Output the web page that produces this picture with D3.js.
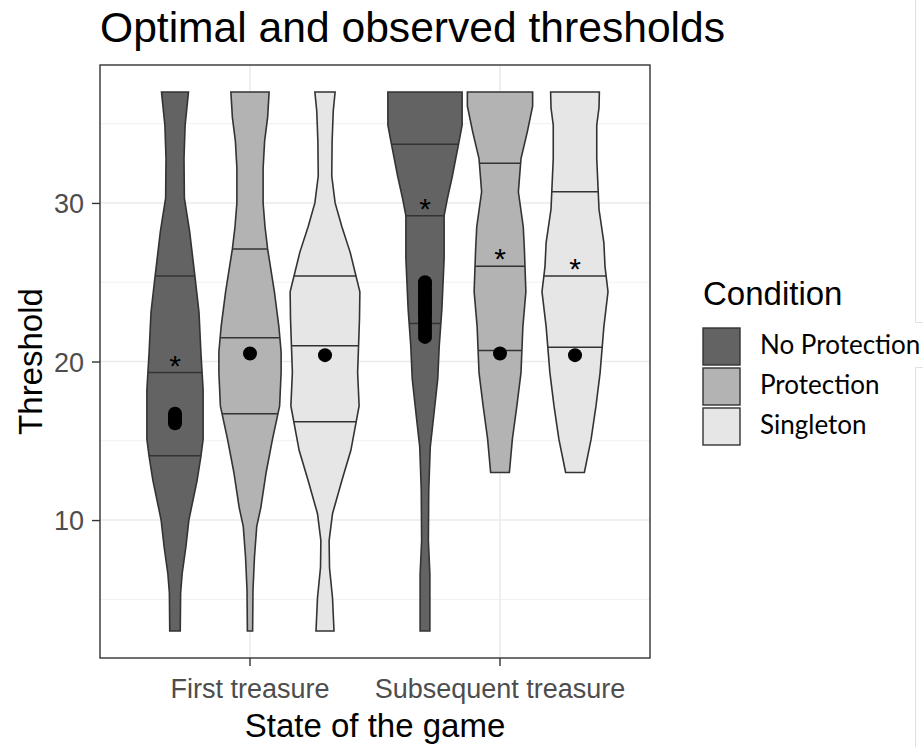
<!DOCTYPE html>
<html>
<head>
<meta charset="utf-8">
<script src="https://cdn.jsdelivr.net/npm/d3@7"></script>
<style>
  body { margin: 0; background: #fff; }
  svg { display: block; }
</style>
</head>
<body>
<svg id="chart" width="923" height="747"></svg>
<script>
// categories
const states = ["First treasure", "Subsequent treasure"];
const conditions = ["No Protection", "Protection", "Singleton"];
const yTicks = [10, 20, 30];
const yMinor = [5, 15, 25, 35];

// violin outlines: [threshold, relative density]
const firstNoProtection = [[37, 0.36], [34.9, 0.27], [32.8, 0.24], [30.3, 0.25], [28.2, 0.39], [25.4, 0.53], [23.1, 0.64], [20.6, 0.69], [18.2, 0.75], [15.1, 0.75], [14, 0.69], [12.5, 0.59], [10, 0.37], [8.3, 0.29], [6.6, 0.19], [5.4, 0.15], [3, 0.14]];
const firstProtection = [[37, 0.51], [35.4, 0.47], [33.9, 0.39], [32.2, 0.35], [30, 0.35], [28.5, 0.40], [27.1, 0.47], [24.4, 0.65], [22.2, 0.77], [20.6, 0.83], [19.3, 0.83], [17.2, 0.79], [15.1, 0.60], [13, 0.43], [10.8, 0.29], [9.6, 0.18], [7.7, 0.12], [5.6, 0.08], [3, 0.07]];
const firstSingleton = [[37, 0.27], [35.8, 0.22], [33.9, 0.19], [31.7, 0.18], [30, 0.27], [28.5, 0.45], [26.9, 0.67], [24.4, 0.93], [22.7, 0.92], [19.3, 0.87], [17.2, 0.91], [14.4, 0.69], [12.5, 0.45], [10.4, 0.20], [8.7, 0.11], [7, 0.12], [5.1, 0.20], [3, 0.24]];
const laterNoProtection = [[37, 0.99], [34.9, 0.99], [33.9, 0.91], [31.7, 0.73], [30.3, 0.60], [29.2, 0.51], [26.5, 0.51], [23.3, 0.45], [21, 0.38], [18.9, 0.34], [16.5, 0.23], [14.6, 0.14], [11.9, 0.10], [8.7, 0.09], [6.6, 0.13], [3, 0.13]];
const laterProtection = [[37, 0.87], [36.1, 0.87], [34.5, 0.73], [32.8, 0.56], [30.7, 0.49], [28.5, 0.62], [27.1, 0.65], [24.4, 0.69], [22.2, 0.61], [19.3, 0.56], [17.2, 0.45], [15.1, 0.33], [13, 0.25]];
const laterSingleton = [[37, 0.65], [36, 0.64], [34.9, 0.58], [32.8, 0.58], [29.6, 0.64], [27.5, 0.77], [26, 0.80], [24.4, 0.88], [22.2, 0.77], [19.3, 0.67], [17.2, 0.56], [15.1, 0.43], [13, 0.25]];

// 25th, 50th, 75th percentiles
const firstQuartiles = [[14.05, 19.3, 25.4], [16.7, 21.5, 27.1], [16.2, 21.0, 25.4]];
const laterQuartiles = [[22.4, 29.2, 33.7], [20.7, 26.0, 32.5], [20.9, 25.4, 30.7]];

// optimal thresholds (black points)
const firstOptimal = [[16.1, 16.25, 16.4, 16.55, 16.7], [20.5], [20.4]];
const laterOptimal = [[21.55, 21.8, 22.05, 22.3, 22.55, 22.8, 23.05, 23.3, 23.55, 23.8, 24.05, 24.3, 24.55, 24.8, 25.0], [20.5], [20.4]];

// significance marker on the median
const firstStar = [true, false, false];
const laterStar = [true, true, true];

const fills = ["#636363", "#b3b3b3", "#e6e6e6"];

const violins = [];
[[firstNoProtection, firstProtection, firstSingleton], [laterNoProtection, laterProtection, laterSingleton]].forEach((row, si) => {
  const q = si === 0 ? firstQuartiles : laterQuartiles;
  const pts = si === 0 ? firstOptimal : laterOptimal;
  const star = si === 0 ? firstStar : laterStar;
  row.forEach((profile, ci) => {
    violins.push({ state: states[si], condition: conditions[ci], profile, quartiles: q[ci], points: pts[ci], star: star[ci] });
  });
});

const svg = d3.select("#chart");
const font = "'Liberation Sans', Arial, sans-serif";

const panel = { left: 100, right: 650, top: 65, bottom: 658 };

const x = d3.scaleBand().domain(states).range([panel.left, panel.right]).paddingInner(0).paddingOuter(0.1);
const xc = d3.scaleBand().domain(conditions).range([x.bandwidth() * 0.05, x.bandwidth() * 0.95]);
const y = d3.scaleLinear().domain([1.3, 38.7]).range([panel.bottom, panel.top]);
const w = d3.scaleLinear().domain([0, 1]).range([0, xc.bandwidth() / 2]);
const color = d3.scaleOrdinal().domain(conditions).range(fills);

// grid
const grid = svg.append("g");
grid.selectAll(".minor").data(yMinor).join("line")
  .attr("x1", panel.left).attr("x2", panel.right)
  .attr("y1", d => y(d)).attr("y2", d => y(d))
  .attr("stroke", "#f0f0f0").attr("stroke-width", 1);
grid.selectAll(".major").data(yTicks).join("line")
  .attr("x1", panel.left).attr("x2", panel.right)
  .attr("y1", d => y(d)).attr("y2", d => y(d))
  .attr("stroke", "#ebebeb").attr("stroke-width", 1.6);
grid.selectAll(".vmajor").data(states).join("line")
  .attr("x1", d => x(d) + x.bandwidth() / 2).attr("x2", d => x(d) + x.bandwidth() / 2)
  .attr("y1", panel.top).attr("y2", panel.bottom)
  .attr("stroke", "#ebebeb").attr("stroke-width", 1.6);

// violins
const g = svg.append("g");
violins.forEach(v => {
  const cx = x(v.state) + xc(v.condition) + xc.bandwidth() / 2;
  const area = d3.area()
    .y(d => y(d[0]))
    .x0(d => cx - w(d[1]))
    .x1(d => cx + w(d[1]));
  g.append("path")
    .datum(v.profile)
    .attr("d", area)
    .attr("fill", color(v.condition))
    .attr("stroke", "#333")
    .attr("stroke-width", 1.6);

  const dens = d3.scaleLinear().domain(v.profile.map(d => d[0])).range(v.profile.map(d => d[1]));
  g.selectAll(null).data(v.quartiles).join("line")
    .attr("x1", d => cx - w(dens(d))).attr("x2", d => cx + w(dens(d)))
    .attr("y1", d => y(d)).attr("y2", d => y(d))
    .attr("stroke", "#333").attr("stroke-width", 1.5);

  if (v.star) {
    g.append("text")
      .attr("x", cx).attr("y", y(v.quartiles[1]) + 3)
      .attr("text-anchor", "middle")
      .attr("font-family", font).attr("font-size", 30)
      .attr("fill", "#000")
      .text("*");
  }

  g.selectAll(null).data(v.points).join("circle")
    .attr("cx", cx).attr("cy", d => y(d)).attr("r", 7)
    .attr("fill", "#000");
});

// panel border
svg.append("rect")
  .attr("x", panel.left).attr("y", panel.top)
  .attr("width", panel.right - panel.left).attr("height", panel.bottom - panel.top)
  .attr("fill", "none").attr("stroke", "#333").attr("stroke-width", 1.4);

// axes
const yAxis = svg.append("g")
  .attr("transform", `translate(${panel.left},0)`)
  .call(d3.axisLeft(y).tickValues(yTicks).tickSize(8).tickPadding(8));
const xAxis = svg.append("g")
  .attr("transform", `translate(0,${panel.bottom})`)
  .call(d3.axisBottom(x).tickSize(8).tickPadding(6));
[yAxis, xAxis].forEach(a => {
  a.select(".domain").remove();
  a.selectAll(".tick line").attr("stroke", "#333").attr("stroke-width", 1.4);
  a.selectAll(".tick text").attr("fill", "#4d4d4d").attr("font-family", font).attr("font-size", 27);
});
xAxis.selectAll(".tick text").attr("dy", "0.95em");
yAxis.selectAll(".tick text").attr("dy", "0.36em");

// titles
svg.append("text")
  .attr("x", 100).attr("y", 42)
  .attr("font-family", font).attr("font-size", 42.6).attr("fill", "#000")
  .text("Optimal and observed thresholds");
svg.append("text")
  .attr("x", (panel.left + panel.right) / 2).attr("y", 737)
  .attr("text-anchor", "middle")
  .attr("font-family", font).attr("font-size", 33).attr("fill", "#000")
  .text("State of the game");
svg.append("text")
  .attr("transform", `translate(42,${(panel.top + panel.bottom) / 2}) rotate(-90)`)
  .attr("text-anchor", "middle")
  .attr("font-family", font).attr("font-size", 33).attr("fill", "#000")
  .text("Threshold");

// legend
const legend = svg.append("g").attr("transform", "translate(703,0)");
legend.append("text")
  .attr("x", 0).attr("y", 305)
  .attr("font-family", font).attr("font-size", 33).attr("fill", "#000")
  .text("Condition");
const item = legend.selectAll(".item").data(conditions).join("g")
  .attr("transform", (d, i) => `translate(0,${328 + i * 40})`);
item.append("rect")
  .attr("width", 37).attr("height", 37)
  .attr("fill", d => color(d)).attr("stroke", "#333").attr("stroke-width", 1.4);
item.append("text")
  .attr("x", 57).attr("y", 26)
  .attr("font-family", "Lato, 'Open Sans', sans-serif").attr("font-size", 26).attr("fill", "#000")
  .text(d => d);

// faint frame lines at right edge of the screenshot
const edge = svg.append("g").attr("stroke", "#e0e0e0").attr("stroke-width", 1).attr("fill", "none");
edge.append("path").attr("d", "M915.5,0V322.5H923");
edge.append("path").attr("d", "M923,367.5H915.5V747");
</script>
</body>
</html>
